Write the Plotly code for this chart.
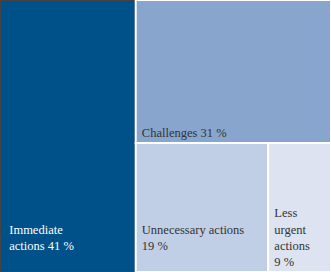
import plotly.graph_objects as go

ids = ["root", "Immediate actions", "Challenges", "Unnecessary actions", "Less urgent actions"]
parents = ["", "root", "root", "root", "root"]
shares = [100, 41, 31, 19, 9]
texts = ["",
         "&nbsp;&nbsp;Immediate<br>&nbsp;&nbsp;actions 41 %<br>&nbsp;",
         "&nbsp;Challenges 31 %",
         "&nbsp;Unnecessary actions<br>&nbsp;19 %<br>&nbsp;",
         "&nbsp;Less<br>&nbsp;urgent<br>&nbsp;actions<br>&nbsp;9 %"]
colors = ["#ffffff", "#00508a", "#88a6cd", "#c0cfe5", "#dde3f0"]
text_colors = ["#ffffff", "#ffffff", "#333333", "#333333", "#333333"]

fig = go.Figure(go.Treemap(
    ids=ids,
    labels=ids,
    parents=parents,
    values=shares,
    branchvalues="total",
    text=texts,
    textinfo="text",
    textposition="bottom left",
    sort=False,
    tiling=dict(packing="squarify", squarifyratio=1, pad=0),
    marker=dict(colors=colors, line=dict(color="#ffffff", width=2),
                pad=dict(t=0, l=0, r=0, b=0)),
    textfont=dict(family="Liberation Serif", size=12.5, color=text_colors),
    hoverinfo="skip",
    pathbar=dict(visible=False),
))

fig.update_layout(
    width=331, height=272,
    margin=dict(l=0, r=0, t=0, b=0),
    paper_bgcolor="#ffffff",
)
fig.write_html("out.html", config={"displayModeBar": False},
               post_script="document.body.style.margin='0';")
